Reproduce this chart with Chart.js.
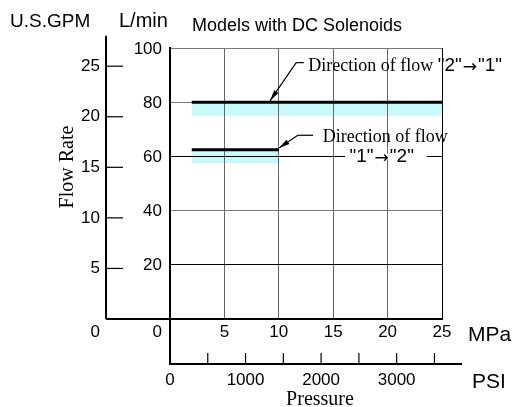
<!DOCTYPE html>
<html>
<head>
<meta charset="utf-8">
<script src="https://cdn.jsdelivr.net/npm/chart.js@4.4.1/dist/chart.umd.min.js"></script>
<style>
  html, body { margin: 0; padding: 0; background: #fff; }
  #wrap { width: 512px; height: 407px; }
</style>
</head>
<body>
<div id="wrap"><canvas id="flowChart"></canvas></div>
<script>
// flow "2" -> "1"
const pressure21 = [2, 25];
const flow21 = [80, 80];
const band21 = [75, 75];
// flow "1" -> "2"
const pressure12 = [2, 10];
const flow12 = [62.5, 62.5];
const band12 = [57.5, 57.5];

const gpmTicks = [5, 10, 15, 20, 25];
const psiLabels = [0, 1000, 2000, 3000];
const psiMinor = [500, 1000, 1500, 2000, 2500, 3000, 3500];

const SANS = '"Liberation Sans", Arial, sans-serif';
const SERIF = '"Liberation Serif", "Times New Roman", serif';
const BAND = '#c8fafa';

const pts = (xs, ys) => xs.map((v, i) => ({ x: v, y: ys[i] }));

function txt(ctx, s, x, y, font, align, base) {
  ctx.font = font;
  ctx.textAlign = align || 'left';
  ctx.textBaseline = base || 'alphabetic';
  ctx.fillText(s, x, y);
}

function arrowTo(ctx, x1, y1, x2, y2) {
  ctx.beginPath();
  ctx.moveTo(x1, y1);
  ctx.lineTo(x2, y2);
  ctx.stroke();
  const a = Math.atan2(y2 - y1, x2 - x1), len = 11, w = 2.6;
  ctx.beginPath();
  ctx.moveTo(x2, y2);
  ctx.lineTo(x2 - len * Math.cos(a) + w * Math.sin(a), y2 - len * Math.sin(a) - w * Math.cos(a));
  ctx.lineTo(x2 - len * Math.cos(a) - w * Math.sin(a), y2 - len * Math.sin(a) + w * Math.cos(a));
  ctx.closePath();
  ctx.fill();
}

// "Direction of flow" in serif, the quoted ports in sans
function flowLabel(ctx, parts, x, y) {
  parts.forEach(p => {
    ctx.font = p[1];
    ctx.textAlign = 'left';
    ctx.textBaseline = 'middle';
    ctx.fillText(p[0], x, y + (p[3] || 0));
    x += ctx.measureText(p[0]).width + (p[2] || 0);
  });
  return x;
}

const overlay = {
  id: 'overlay',
  afterDraw(chart) {
    const { ctx, scales: { x, y, gpm, psi } } = chart;
    const x0 = x.getPixelForValue(0), y0 = y.getPixelForValue(0);
    const psiY = 364;
    ctx.save();
    ctx.fillStyle = '#000';
    ctx.strokeStyle = '#000';

    // axis extensions
    ctx.lineWidth = 2;
    ctx.beginPath();
    ctx.moveTo(x0, y0); ctx.lineTo(x0, psiY + 1);
    ctx.moveTo(106, y0); ctx.lineTo(x0, y0);
    ctx.stroke();

    // U.S.GPM axis
    const gx = 106;
    ctx.beginPath();
    ctx.moveTo(gx, gpm.getPixelForValue(28)); ctx.lineTo(gx, y0);
    ctx.stroke();
    ctx.lineWidth = 1.2;
    gpmTicks.forEach(v => {
      const py = gpm.getPixelForValue(v);
      ctx.beginPath(); ctx.moveTo(gx, py); ctx.lineTo(gx + 17, py); ctx.stroke();
      txt(ctx, String(v), 100, py, '17px ' + SANS, 'right', 'middle');
    });
    txt(ctx, '0', 100, 332, '17px ' + SANS, 'right', 'middle');

    // L/min and MPa tick labels
    y.ticks.forEach(t => {
      if (t.value === 0) return;
      txt(ctx, String(t.value), 162, y.getPixelForValue(t.value) + 1, '17px ' + SANS, 'right', 'middle');
    });
    txt(ctx, '0', 162, 332, '17px ' + SANS, 'right', 'middle');
    x.ticks.forEach(t => {
      if (t.value === 0) return;
      txt(ctx, String(t.value), x.getPixelForValue(t.value), 332, '17px ' + SANS, 'center', 'middle');
    });

    // PSI axis
    ctx.lineWidth = 2;
    ctx.beginPath(); ctx.moveTo(x0 - 1, psiY); ctx.lineTo(462, psiY); ctx.stroke();
    ctx.lineWidth = 1.2;
    psiMinor.forEach(v => {
      const px = psi.getPixelForValue(v);
      ctx.beginPath(); ctx.moveTo(px, psiY); ctx.lineTo(px, psiY - 11); ctx.stroke();
    });
    psiLabels.forEach(v => {
      txt(ctx, String(v), psi.getPixelForValue(v), 380, '17px ' + SANS, 'center', 'middle');
    });

    // units and titles
    txt(ctx, 'U.S.GPM', 10, 27, '19px ' + SANS);
    txt(ctx, 'L/min', 119, 27, '20px ' + SANS);
    txt(ctx, 'Models with DC Solenoids', 192, 31, '18px ' + SANS);
    txt(ctx, 'MPa', 468, 341, '21px ' + SANS);
    txt(ctx, 'PSI', 472, 388, '21px ' + SANS);
    txt(ctx, 'Pressure', 320, 405, '20px ' + SERIF, 'center');
    ctx.save();
    ctx.translate(73, 167);
    ctx.rotate(-Math.PI / 2);
    txt(ctx, 'Flow Rate', 0, 0, '20px ' + SERIF, 'center');
    ctx.restore();

    // annotation "2" -> "1"
    ctx.lineWidth = 1.2;
    const c1x = x.getPixelForValue(11.6), c1y = y.getPixelForValue(94.6);
    ctx.beginPath(); ctx.moveTo(c1x, c1y); ctx.lineTo(x.getPixelForValue(12.3), c1y); ctx.stroke();
    arrowTo(ctx, c1x, c1y, x.getPixelForValue(9.2), y.getPixelForValue(80) - 1.5);
    flowLabel(ctx, [
      ['Direction of flow ', '18px ' + SERIF],
      ['"2"', '19px ' + SANS, 1],
      ['\u2192', '17px "DejaVu Sans"', 1, 2],
      ['"1"', '19px ' + SANS]
    ], x.getPixelForValue(12.7), y.getPixelForValue(93.4));

    // annotation "1" -> "2"
    const c2x = x.getPixelForValue(11.75), c2y = y.getPixelForValue(67.8);
    ctx.beginPath(); ctx.moveTo(c2x, c2y); ctx.lineTo(x.getPixelForValue(13.15), c2y); ctx.stroke();
    arrowTo(ctx, c2x, c2y, x.getPixelForValue(10), y.getPixelForValue(62.5) - 1.5);
    flowLabel(ctx, [['Direction of flow', '18px ' + SERIF]],
      x.getPixelForValue(14.05), y.getPixelForValue(67.2));
    const l2y = y.getPixelForValue(60);
    ctx.fillStyle = '#fff';
    ctx.fillRect(x.getPixelForValue(16.1), l2y - 3, x.getPixelForValue(23.6) - x.getPixelForValue(16.1), 6);
    ctx.fillStyle = '#000';
    flowLabel(ctx, [
      ['"1"', '19px ' + SANS, 1],
      ['\u2192', '17px "DejaVu Sans"', 1, 2],
      ['"2"', '19px ' + SANS]
    ], x.getPixelForValue(16.5), l2y);

    ctx.restore();
  }
};

const lineStyle = { borderColor: '#000', borderWidth: 3, pointRadius: 0, borderCapStyle: 'butt', fill: false };
const edge = { borderWidth: 0, pointRadius: 0 };

// thick lines first (drawn on top, and fill targets never sit at index 0)
new Chart(document.getElementById('flowChart'), {
  type: 'line',
  data: {
    datasets: [
      { ...lineStyle, data: pts(pressure21, flow21) },
      { ...lineStyle, data: pts(pressure12, flow12) },
      { ...edge, data: pts(pressure21, band21), fill: false },
      { ...edge, data: pts(pressure21, flow21), fill: '-1', backgroundColor: BAND },
      { ...edge, data: pts(pressure12, band12), fill: false },
      { ...edge, data: pts(pressure12, flow12), fill: '-1', backgroundColor: BAND }
    ]
  },
  options: {
    responsive: true,
    maintainAspectRatio: false,
    animation: false,
    layout: { padding: { left: 170, right: 70, top: 48, bottom: 88 } },
    plugins: {
      legend: { display: false },
      tooltip: { enabled: false },
      filler: { drawTime: 'beforeDraw' }
    },
    scales: {
      x: {
        type: 'linear', min: 0, max: 25,
        ticks: { display: false, stepSize: 5 },
        grid: { drawTicks: false, lineWidth: 1, color: c => c.tick.value === 25 ? '#000' : '#666' },
        border: { color: '#000', width: 2 }
      },
      y: {
        min: 0, max: 100,
        ticks: { display: false, stepSize: 20 },
        grid: { drawTicks: false, lineWidth: 1, color: c => (c.tick.value === 20 || c.tick.value === 60) ? '#000' : '#777' },
        border: { color: '#000', width: 2 }
      },
      gpm: { type: 'linear', position: 'left', display: false, min: 0, max: 26.8 },
      psi: { type: 'linear', axis: 'x', position: 'bottom', display: false, min: 0, max: 3600 }
    }
  },
  plugins: [overlay]
});
</script>
</body>
</html>
